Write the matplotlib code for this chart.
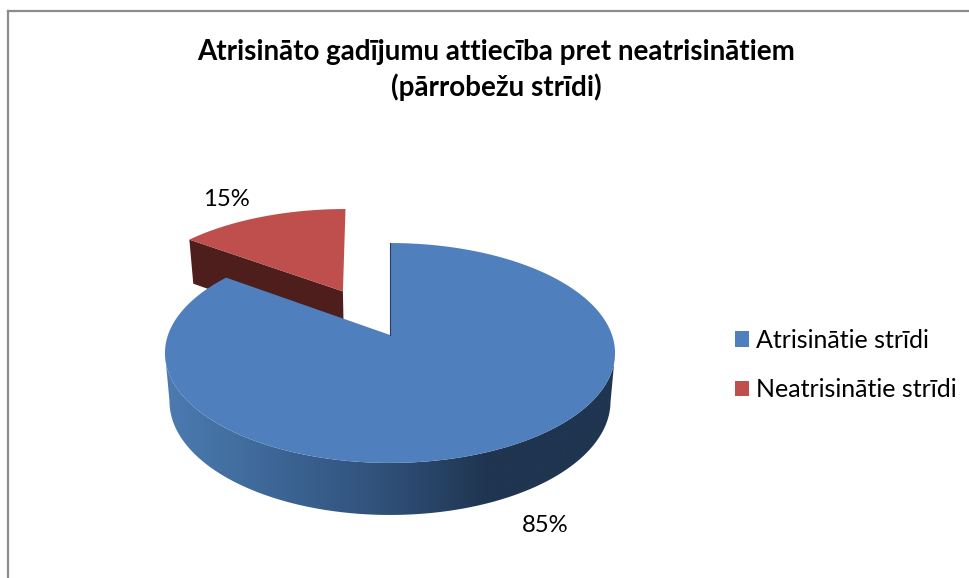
import numpy as np
import matplotlib
matplotlib.use("Agg")
import matplotlib.pyplot as plt
from matplotlib.colors import LinearSegmentedColormap
from matplotlib.patches import Patch, Polygon

plt.rcParams["font.family"] = ["Lato", "Noto Sans", "DejaVu Sans"]

# Data
title = "Atrisināto gadījumu attiecība pret neatrisinātiem\n(pārrobežu strīdi)"
categories = ["Atrisinātie strīdi", "Neatrisinātie strīdi"]
shares = [85, 15]
colors = ["#4F7FBC", "#BE4F4C"]

# Pie geometry in pixels (axes below use the image's pixel grid)
cx, cy = 390, 335
rx, ry = 222, 107
persp = 0.1635
depth = 47.6
explode = 0.49
red_shift = (-4.5, -1.5)


def project(x, y, low=False):
    # Tilted disc with some perspective, x/y on the unit circle
    w = 1 + persp * y
    px = rx * x / w
    py = ry * y / w
    if low:
        return cx + px * 0.98, cy - py + depth / np.sqrt(w)
    return cx + px, cy - py


def rim(a0, a1, low=False, ox=0, oy=0):
    t = np.radians(np.linspace(a0, a1, 400))
    return project(np.sin(t) + ox, np.cos(t) + oy, low)


fig = plt.figure(figsize=(9.69, 5.78), dpi=100)
ax = fig.add_axes([0, 0, 1, 1])
ax.set_xlim(0, 969)
ax.set_ylim(578, 0)
ax.axis("off")

# Chart frame, runs off the right and bottom edge
ax.plot([8, 8], [578, 11], color="#8c8c8c", lw=1.6)
ax.plot([8, 969], [11, 11], color="#8c8c8c", lw=1.6)

end_blue = shares[0] / sum(shares) * 360

# Exploded red slice, drawn first as the blue one covers it
mid = np.radians((end_blue + 360) / 2)
ox, oy = explode * np.sin(mid), explode * np.cos(mid)
a = np.radians(end_blue)
tip_t = np.array(project(ox, oy)) + (-1, 0)
tip_b = np.array(project(ox, oy, low=True)) + (-1, 0)
cor_t = np.array(project(np.sin(a) + ox, np.cos(a) + oy)) + red_shift
cor_b = np.array(project(np.sin(a) + ox, np.cos(a) + oy, low=True)) + red_shift
ax.add_patch(Polygon([cor_t, tip_t, tip_b, cor_b], fc="#4D1E1C", ec="none"))
rx_red, ry_red = rim(end_blue, 360, ox=ox, oy=oy)
red_rim = np.c_[rx_red, ry_red] + red_shift
ax.add_patch(Polygon(np.r_[[tip_t], red_rim], fc=colors[1], ec="none"))

# Blue side wall with the horizontal shading, only the front between the
# widest points of both rims so the silhouette has straight sides
top_x, top_y = rim(0, end_blue)
low_x, low_y = rim(0, end_blue, low=True)
top_pts = np.c_[top_x, top_y][np.argmax(top_x):np.argmin(top_x) + 1]
low_pts = np.c_[low_x, low_y][np.argmax(low_x):np.argmin(low_x) + 1]
wall = Polygon(np.r_[top_pts, low_pts[::-1]], fc="none", ec="none")
ax.add_patch(wall)
shade = LinearSegmentedColormap.from_list(
    "side", [(0, "#4C7BB2"), (0.2, "#3F6A9B"), (0.5, "#2F4F78"), (0.72, "#1F3550"), (1, "#1F3550")]
)
im = ax.imshow(np.linspace(0, 1, 256)[None, :], cmap=shade, aspect="auto",
               extent=[165, 615, 578, 0], zorder=1)
im.set_clip_path(wall)
ax.set_xlim(0, 969)
ax.set_ylim(578, 0)

# Blue top face
ax.add_patch(Polygon(np.r_[[(cx, cy)], np.c_[top_x, top_y]], fc=colors[0], ec="none", zorder=2))
ax.plot([cx, top_x[0]], [cy, top_y[0]], color="#24405F", lw=0.8, zorder=2)

# Slice labels
ax.text(226, 199, f"{shares[1]}%", ha="center", va="center", fontsize=17.2, color="black")
ax.text(545, 526, f"{shares[0]}%", ha="center", va="center", fontsize=17.2, color="black")

ax.text(496, 70, title, ha="center", va="center", fontsize=20, fontweight="bold",
        linespacing=1.33, color="black")

handles = [Patch(fc=c, ec="none") for c in colors]
ax.legend(handles, categories, loc="center left", bbox_to_anchor=(735 / 969, 1 - 365 / 578),
          frameon=False, fontsize=18, handlelength=0.56, handleheight=0.56,
          handletextpad=0.28, labelspacing=1.06, borderpad=0, borderaxespad=0)

fig.savefig("out.png", dpi=100)
